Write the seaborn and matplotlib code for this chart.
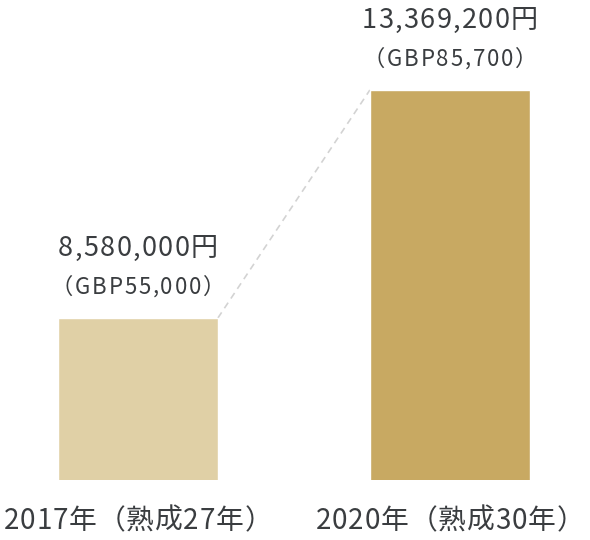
import matplotlib
matplotlib.use("Agg")
import matplotlib.pyplot as plt
from matplotlib import font_manager as fm
import seaborn as sns
import pandas as pd

years = ["2017年（熟成27年）", "2020年（熟成30年）"]
yen_values = [8580000, 13369200]
yen_labels = ["8,580,000円", "13,369,200円"]
gbp_labels = ["（GBP55,000）", "（GBP85,700）"]
bar_colors = ["#e0d0a6", "#c8a962"]

FONT = "Noto Sans CJK JP"
TEXT_COLOR = "#3a3d40"

sns.set_style("white")
plt.rcParams["font.family"] = [FONT, "DejaVu Sans"]


def char_advances(s, size):
    font = fm.get_font(fm.findfont(fm.FontProperties(family=FONT)))
    font.set_size(size, 72)
    return [font.load_char(ord(c)).linearHoriAdvance / 65536 for c in s]


def spaced_text(ax, s, xy, dy, size, track, xycoords="data"):
    """Centered text with a little letter spacing (track given in em)."""
    adv = char_advances(s, size)
    gap = track * size
    total = sum(adv) + gap * (len(s) - 1)
    x = -total / 2
    for c, a in zip(s, adv):
        ax.annotate(c, xy, xycoords=xycoords, xytext=(x, dy),
                    textcoords="offset points", ha="left", va="center",
                    fontsize=size, color=TEXT_COLOR)
        x += a + gap


df = pd.DataFrame({"year": years, "yen": yen_values})

fig = plt.figure(figsize=(5.9, 5.4), dpi=100)
ax = fig.add_axes([0, 60 / 540, 1, 460 / 540])

bar_w = 0.513
sns.barplot(data=df, x="year", y="yen", hue="year", palette=bar_colors,
            width=bar_w, legend=False, ax=ax, saturation=1)

ax.set_xlim(-0.442, 1.449)
ax.set_ylim(5175000, 14840000)

# dashed connector between the bar tops
ax.plot([0 + bar_w / 2, 1 - bar_w / 2], yen_values, ls=(0, (4, 3)),
        color="#d3d3d3", lw=1.2, zorder=0)

for i, v in enumerate(yen_values):
    spaced_text(ax, yen_labels[i], (i, v), 50, 19.5, 0.05)
    spaced_text(ax, gbp_labels[i], (i, v), 22, 16, 0.08)
    spaced_text(ax, years[i], (i, 0), -29.5, 20, 0.03,
                xycoords=ax.get_xaxis_transform())

ax.set_xlabel("")
ax.set_ylabel("")
ax.set_xticks([])
ax.set_yticks([])
sns.despine(ax=ax, left=True, bottom=True)
ax.patch.set_alpha(0)

fig.savefig("out.png", dpi=100)
